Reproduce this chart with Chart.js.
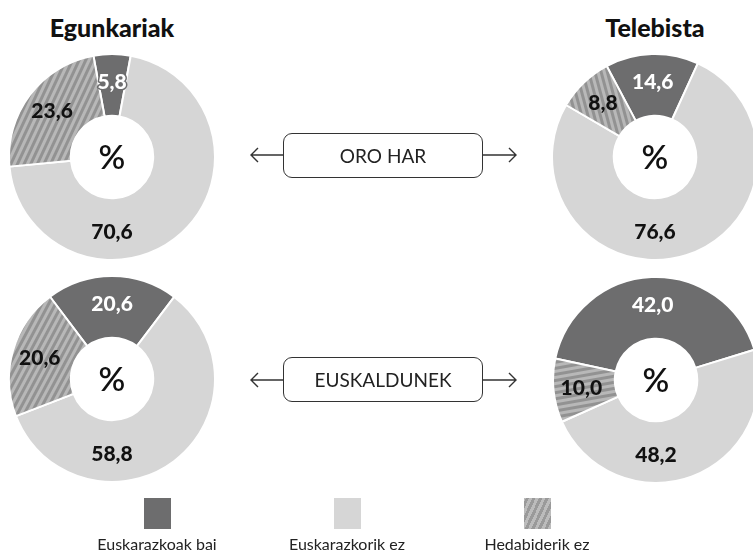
<!DOCTYPE html>
<html>
<head>
<meta charset="utf-8">
<script src="https://cdn.jsdelivr.net/npm/chart.js@4/dist/chart.umd.min.js"></script>
<style>
  html, body { margin: 0; padding: 0; background: #fff; }
  body { width: 753px; height: 554px; position: relative; overflow: hidden; font-family: Lato, sans-serif; }
  canvas.pie { position: absolute; }
  .title { position: absolute; width: 200px; text-align: center; font-weight: 900; font-size: 25px; color: #111; }
  .box { position: absolute; left: 283px; width: 198px; height: 43px; border: 1.3px solid #333; border-radius: 9px;
         text-align: center; line-height: 43px; font-size: 19px; color: #222; }
  .leg { position: absolute; top: 498px; width: 160px; text-align: center; font-size: 16px; color: #222; }
  .leg .sw { width: 27px; height: 31px; margin: 0 auto 5px auto; }
  svg { position: absolute; left: 0; top: 0; }
</style>
</head>
<body>
<div class="title" style="left:12px; top:12px;">Egunkariak</div>
<div class="title" style="left:555px; top:12px;">Telebista</div>

<canvas class="pie" id="c1" width="208" height="208" style="left:8px; top:53px;"></canvas>
<canvas class="pie" id="c2" width="208" height="208" style="left:551px; top:53px;"></canvas>
<canvas class="pie" id="c3" width="208" height="208" style="left:8px; top:275px;"></canvas>
<canvas class="pie" id="c4" width="208" height="208" style="left:552px; top:276px;"></canvas>

<svg width="753" height="554">
  <g stroke="#333" stroke-width="1.4" fill="none">
    <path d="M251 155 H283 M258 148 L251 155 L258 162"/>
    <path d="M482 155 H516 M509 148 L516 155 L509 162"/>
    <path d="M251 380 H283 M258 373 L251 380 L258 387"/>
    <path d="M482 380 H516 M509 373 L516 380 L509 387"/>
  </g>
</svg>
<div class="box" style="top:133px;">ORO HAR</div>
<div class="box" style="top:357px;">EUSKALDUNEK</div>

<div class="leg" style="left:77px;"><div class="sw" style="background:#6d6d6e"></div>Euskarazkoak bai</div>
<div class="leg" style="left:267px;"><div class="sw" style="background:#d6d6d6"></div>Euskarazkorik ez</div>
<div class="leg" style="left:457px;"><div class="sw" style="background:repeating-linear-gradient(-65deg,#bcbcbc 0 3px,#9a9a9a 3px 6px)"></div>Hedabiderik ez</div>

<script>
// datuak
const categories = ['Euskarazkoak bai', 'Euskarazkorik ez', 'Hedabiderik ez'];
const egunkariakOroHar = [5.8, 70.6, 23.6];
const telebistaOroHar = [14.6, 76.6, 8.8];
const egunkariakEuskaldunek = [20.6, 58.8, 20.6];
const telebistaEuskaldunek = [42.0, 48.2, 10.0];

const darkGrey = '#6d6d6e';
const lightGrey = '#d6d6d6';

// hatch pattern: vertical stripes, rotated per chart
function hatch(ctx, angle) {
  var tile = document.createElement('canvas');
  tile.width = 6; tile.height = 1;
  var t = tile.getContext('2d');
  t.fillStyle = '#b8b8b8'; t.fillRect(0, 0, 6, 1);
  t.fillStyle = '#929292'; t.fillRect(0, 0, 3, 1);
  var p = ctx.createPattern(tile, 'repeat');
  p.setTransform(new DOMMatrix().rotate(angle));
  return p;
}

// numbers and the "%" in the hole
const labelPlugin = {
  id: 'labels',
  afterDatasetsDraw(chart) {
    var ctx = chart.ctx;
    var meta = chart.getDatasetMeta(0);
    var ds = chart.data.datasets[0];
    ctx.save();
    ctx.textAlign = 'center';
    ctx.textBaseline = 'middle';
    meta.data.forEach(function (arc, i) {
      var p = arc.getProps(['x', 'y', 'startAngle', 'endAngle', 'innerRadius', 'outerRadius'], true);
      var a = (p.startAngle + p.endAngle) / 2;
      if (ds.labelAt[i] !== null) a = (ds.labelAt[i] - 90) * Math.PI / 180;
      var r = (p.innerRadius + p.outerRadius) / 2 + 3;
      var x = p.x + Math.cos(a) * r, y = p.y + Math.sin(a) * r;
      var txt = ds.data[i].toFixed(1).replace('.', ',');
      ctx.font = '900 21px Lato';
      if (i === 0) {
        ctx.lineWidth = 3; ctx.strokeStyle = darkGrey; ctx.lineJoin = 'round';
        ctx.strokeText(txt, x, y);
        ctx.fillStyle = '#fff';
      } else {
        ctx.fillStyle = '#111';
      }
      ctx.fillText(txt, x, y);
    });
    var c = meta.data[0];
    ctx.font = '600 33px Lato';
    ctx.fillStyle = '#111';
    ctx.fillText('%', c.x, c.y + 1);
    ctx.restore();
  }
};

function makePie(id, values, rotation, hatchAngle) {
  var ctx = document.getElementById(id).getContext('2d');
  return new Chart(ctx, {
    type: 'doughnut',
    data: {
      labels: categories,
      datasets: [{
        data: values,
        backgroundColor: [darkGrey, lightGrey, hatch(ctx, hatchAngle)],
        borderColor: '#fff',
        borderWidth: 2,
        labelAt: [null, 180, null]
      }]
    },
    options: {
      responsive: false,
      animation: false,
      cutout: '40%',
      rotation: rotation,
      layout: { padding: 0 },
      plugins: { legend: { display: false }, tooltip: { enabled: false } }
    },
    plugins: [labelPlugin]
  });
}

makePie('c1', egunkariakOroHar, -10.4, 25);
makePie('c2', telebistaOroHar, -28, -15);
makePie('c3', egunkariakEuskaldunek, -37, 28);
makePie('c4', telebistaEuskaldunek, -78, 80);
</script>
</body>
</html>
